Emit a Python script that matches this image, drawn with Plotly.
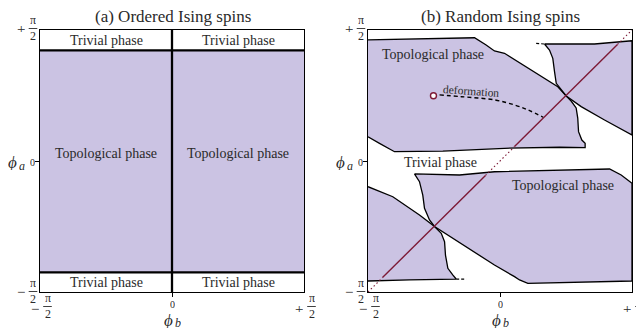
import plotly.graph_objects as go

# ---------------- data (coordinates in units of pi/2) ----------------
titles = ["(a) Ordered Ising spins", "(b) Random Ising spins"]

# (a) ordered spins: phase boundaries
ordered_boundary_b = 0.0
ordered_trivial_hi = 0.845
ordered_trivial_lo = -0.85

# (b) random spins: topological regions (polygons)
regA_x = [-1.0, -0.559, -0.193, -0.105, -0.042, 0.034, 0.211, 0.438, 0.502, 0.539, 0.577, 0.589,
          0.595, 0.620, 0.645, 0.645, 0.451, 0.034, -0.433, -0.799, -0.913, -1.0]
regA_y = [0.924, 0.931, 0.941, 0.885, 0.840, 0.822, 0.708, 0.567, 0.496, 0.458, 0.405, 0.328,
          0.224, 0.160, 0.135, 0.102, 0.105, 0.097, 0.076, 0.071, 0.135, 0.185]

regB_x = [0.337, 0.716, 1.0, 1.0, 0.792, 0.615, 0.502, 0.464, 0.426, 0.413, 0.400, 0.375, 0.337]
regB_y = [0.893, 0.893, 0.918, 0.198, 0.313, 0.415, 0.496, 0.542, 0.593, 0.682, 0.784, 0.847, 0.893]

regC_x = [-1.0, -0.812, -0.610, -0.496, -0.445, -0.420, -0.413, -0.395, -0.358, -0.332, -0.686, -1.0]
regC_y = [-0.196, -0.273, -0.412, -0.500, -0.552, -0.616, -0.718, -0.819, -0.870, -0.901, -0.908, -0.916]

regD_x = [-0.648, -0.307, -0.042, 0.464, 0.830, 0.918, 1.0, 1.0, 0.602, 0.211, 0.148, 0.110, -0.042,
          -0.180, -0.383, -0.496, -0.534, -0.572, -0.585, -0.610, -0.648]
regD_y = [-0.099, -0.107, -0.082, -0.069, -0.061, -0.107, -0.170, -0.916, -0.924, -0.934, -0.908, -0.883,
          -0.794, -0.705, -0.578, -0.500, -0.450, -0.361, -0.260, -0.158, -0.099]

# dashed stubs at ends of computed boundaries
stub_x = [0.274, 0.337, None, -0.332, -0.256]
stub_y = [0.898, 0.893, None, -0.901, -0.901]

# phi_a = phi_b diagonal: solid inside topological phase, dotted in trivial phase
diag_solid = [-0.89, -0.11, None, 0.11, 0.89]
diag_dotted = [-1.0, -0.89, None, -0.11, 0.11, None, 0.89, 1.0]

# deformation path
start_pt = (-0.504, 0.498)
deform_x = [-0.458, -0.292, -0.039, 0.112, 0.214, 0.327]
deform_y = [0.505, 0.491, 0.466, 0.427, 0.389, 0.334]

# phase labels (text, x, y)
labels_a = [("Trivial phase", -0.5, 0.9225), ("Trivial phase", 0.5, 0.9225),
            ("Topological phase", -0.5, 0.057), ("Topological phase", 0.5, 0.057),
            ("Trivial phase", -0.5, -0.925), ("Trivial phase", 0.5, -0.925)]
labels_b = [("Topological phase", -0.506, 0.815), ("Trivial phase", -0.45, -0.015),
            ("Topological phase", 0.481, -0.189)]
deform_label = ("deformation", -0.218, 0.534)

# tick labels
tick_vals = [-1, 0, 1]
tick_signs = ["\u2212", "", "+"]
tick_frac = "\u03c0<br>2"
axis_symbol = "\u03d5"
axis_subs = ("b", "a")

# ---------------- style / layout ----------------
OFF = 8  # default page body margin
W, H = 644 - OFF, 328 - OFF
ML, MT = 40 - OFF, 30 - OFF
MR, MB = 12, 36
PW, PH = W - ML - MR, H - MT - MB
FILL = "rgb(203,195,227)"
RED = "#7d1a36"
FONT = "Liberation Serif"
TXT = "#2a2a2a"
panel_left_px = [40.5, 368.5]   # page pixels
panel_w = 264


def px2paper_x(px):
    return (px - OFF - ML) / PW


def px2paper_y(py):
    return (H - MB - (py - OFF)) / PH


fig = go.Figure()

dom_a = [0, 264 / PW]
dom_b = [(368 - OFF - ML) / PW, 1]

# ---- panel (a)
fig.add_trace(go.Scatter(
    x=[-1, 1, 1, -1, -1],
    y=[ordered_trivial_lo, ordered_trivial_lo, ordered_trivial_hi, ordered_trivial_hi, ordered_trivial_lo],
    fill="toself", fillcolor=FILL, mode="lines", line=dict(width=0),
    xaxis="x", yaxis="y", hoverinfo="skip"))
fig.add_trace(go.Scatter(
    x=[-1, 1, None, -1, 1, None, ordered_boundary_b, ordered_boundary_b],
    y=[ordered_trivial_hi, ordered_trivial_hi, None, ordered_trivial_lo, ordered_trivial_lo, None, -1, 1],
    mode="lines", line=dict(color="black", width=2.3), xaxis="x", yaxis="y", hoverinfo="skip"))

# ---- panel (b)
for rx, ry in [(regA_x, regA_y), (regB_x, regB_y), (regC_x, regC_y), (regD_x, regD_y)]:
    fig.add_trace(go.Scatter(x=rx, y=ry, fill="toself", fillcolor=FILL, mode="lines",
                             line=dict(color="black", width=1.3), xaxis="x2", yaxis="y2",
                             hoverinfo="skip"))
fig.add_trace(go.Scatter(x=stub_x, y=stub_y, mode="lines",
                         line=dict(color="black", width=1.2, dash="3px,2px"),
                         xaxis="x2", yaxis="y2", hoverinfo="skip"))
fig.add_trace(go.Scatter(x=diag_dotted, y=diag_dotted, mode="lines",
                         line=dict(color=RED, width=1.1, dash="1.5px,2.5px"),
                         xaxis="x2", yaxis="y2", hoverinfo="skip"))
fig.add_trace(go.Scatter(x=diag_solid, y=diag_solid, mode="lines",
                         line=dict(color=RED, width=1.4),
                         xaxis="x2", yaxis="y2", hoverinfo="skip"))
fig.add_trace(go.Scatter(x=deform_x, y=deform_y, mode="lines", line_shape="spline",
                         line=dict(color="black", width=1.4, dash="4px,3px"),
                         xaxis="x2", yaxis="y2", hoverinfo="skip"))
fig.add_trace(go.Scatter(x=[start_pt[0]], y=[start_pt[1]], mode="markers",
                         marker=dict(symbol="circle", size=6, color="white",
                                     line=dict(color=RED, width=1.4)),
                         xaxis="x2", yaxis="y2", hoverinfo="skip"))

ann = []
for txt, x, y in labels_a:
    ann.append(dict(text=txt, x=x, y=y, xref="x", yref="y", showarrow=False,
                    font=dict(family=FONT, size=14, color=TXT)))
for txt, x, y in labels_b:
    ann.append(dict(text=txt, x=x, y=y, xref="x2", yref="y2", showarrow=False,
                    font=dict(family=FONT, size=14, color=TXT)))
ann.append(dict(text=deform_label[0], x=deform_label[1], y=deform_label[2], xref="x2", yref="y2",
                showarrow=False, textangle=4, font=dict(family=FONT, size=11.5, color=TXT)))

shapes = []


def add_text_px(text, px, py, size, height=None, italic=False):
    f = dict(family=FONT, size=size, color=TXT)
    if italic:
        f["style"] = "italic"
    a = dict(text=text, x=px2paper_x(px), y=px2paper_y(py), xref="paper", yref="paper",
             xanchor="center", yanchor="middle", showarrow=False, borderpad=0, font=f)
    if height is not None:
        a["height"] = height
    ann.append(a)


def add_frac(sign, cx, bar_y, sign_x, sign_y):
    if sign:
        add_text_px(sign, sign_x, sign_y, 15, height=7)
    add_text_px(tick_frac, cx, bar_y - 0.5, 12, height=26)
    shapes.append(dict(type="line", xref="paper", yref="paper",
                       x0=px2paper_x(cx - 4.3), x1=px2paper_x(cx + 4.3),
                       y0=px2paper_y(bar_y), y1=px2paper_y(bar_y),
                       line=dict(color=TXT, width=0.9)))


top_px, bot_px = 30, 292
for i, fl in enumerate(panel_left_px):
    cxp = fl + panel_w / 2
    # title
    add_text_px(titles[i], cxp, 17, 17)
    # y tick labels
    for v, s in zip(tick_vals, tick_signs):
        if v == 0:
            add_text_px("0", fl - 8, 162, 10, height=8)
        else:
            by = bot_px - 0.5 if v < 0 else top_px - 1.5
            add_frac(s, fl - 7.5, by, fl - 20, by)
    # x tick labels
    for v, s in zip(tick_vals, tick_signs):
        tx = fl + (v + 1) / 2 * panel_w
        if v == 0:
            add_text_px("0", tx, 303.5, 10, height=8)
        else:
            add_frac(s, tx + 7, 306.5, tx - 6, 308)
    # axis titles (symbol + subscript)
    add_text_px(axis_symbol, cxp - 4, 319.5, 17, height=16, italic=True)
    add_text_px(axis_subs[0], cxp + 5.5, 322.5, 12, height=13, italic=True)
    add_text_px(axis_symbol, fl - 28.5, 161.5, 17, height=16, italic=True)
    add_text_px(axis_subs[1], fl - 19, 165, 12, height=11, italic=True)

axis_common = dict(range=[-1, 1], showgrid=False, zeroline=False, showline=True, mirror=True,
                   linecolor="black", linewidth=1.2, ticks="outside", ticklen=4, tickwidth=1,
                   tickcolor="black", tickvals=[0], showticklabels=False, fixedrange=True)

fig.update_layout(
    width=W, height=H, margin=dict(l=ML, r=MR, t=MT, b=MB, pad=0),
    paper_bgcolor="white", plot_bgcolor="white", showlegend=False,
    xaxis=dict(domain=dom_a, anchor="y", **axis_common),
    yaxis=dict(domain=[0, 1], anchor="x", **axis_common),
    xaxis2=dict(domain=dom_b, anchor="y2", **axis_common),
    yaxis2=dict(domain=[0, 1], anchor="x2", **axis_common),
    annotations=ann, shapes=shapes,
    font=dict(family=FONT, color=TXT),
)

fig.write_html("out.html")
